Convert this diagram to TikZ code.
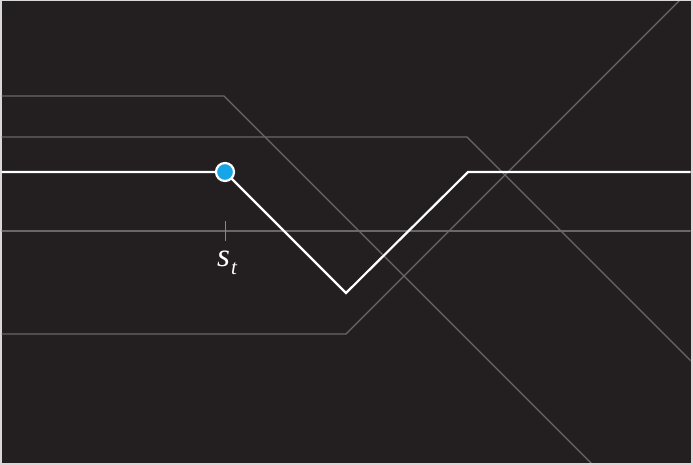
\documentclass[tikz,border=0pt]{standalone}
\usepackage{fontspec}
\setmainfont{Liberation Serif}
\definecolor{bgdark}{HTML}{231F20}
\definecolor{gridgray}{HTML}{6A6768}
\definecolor{dotblue}{HTML}{14A6E6}
\definecolor{edgegray}{HTML}{D8D8D8}
\begin{document}
\begin{tikzpicture}[x=1pt,y=-1pt,
  guide/.style={draw=gridgray, line width=1.1pt},
  path/.style={draw=white, line width=2.2pt, line join=miter},
  tickmark/.style={draw=gridgray!80!white, line width=0.9pt},
  dot/.style={circle, fill=dotblue, draw=white, line width=2.2pt, minimum size=18pt, inner sep=0pt}]
\useasboundingbox (0,0) rectangle (693,465);
\fill[edgegray] (0,0) rectangle (693,465);
\fill[bgdark] (1.5,1.5) rectangle (690.5,462.5);
\begin{scope}
\clip (1.5,1.5) rectangle (690.5,462.5);
% guide lines
\coordinate (a0) at (0,96);   \coordinate (a1) at (224,96);  \coordinate (a2) at (593,465);
\coordinate (b0) at (0,137);  \coordinate (b1) at (467,137); \coordinate (b2) at (695,365);
\coordinate (c0) at (0,231);  \coordinate (c1) at (693,231);
\coordinate (d0) at (0,334);  \coordinate (d1) at (346,334); \coordinate (d2) at (680,0);
\path[guide] (a0) -- (a1) -- (a2);
\path[guide] (b0) -- (b1) -- (b2);
\path[guide] (c0) -- (c1);
\path[guide] (d0) -- (d1) -- (d2);
% white path
\coordinate (w0) at (0,172);
\coordinate (w2) at (346,293);
\coordinate (w3) at (468,172);
\coordinate (w4) at (693,172);
\coordinate (sc) at (225,172);
\path[path] (w0) -- (sc) -- (w2) -- (w3) -- (w4);
\node[dot] (st) at (sc) {};
\end{scope}
% tick and label
\coordinate (t0) at (225,221);
\coordinate (t1) at (225,241);
\path[tickmark] (t0) -- (t1);
\node[text=white, inner sep=0pt, anchor=base west] (lbl) at (217,266) {\fontsize{33}{33}\selectfont\itshape s\kern1pt\raisebox{-8pt}{\fontsize{21}{21}\selectfont t}};
\end{tikzpicture}
\end{document}
